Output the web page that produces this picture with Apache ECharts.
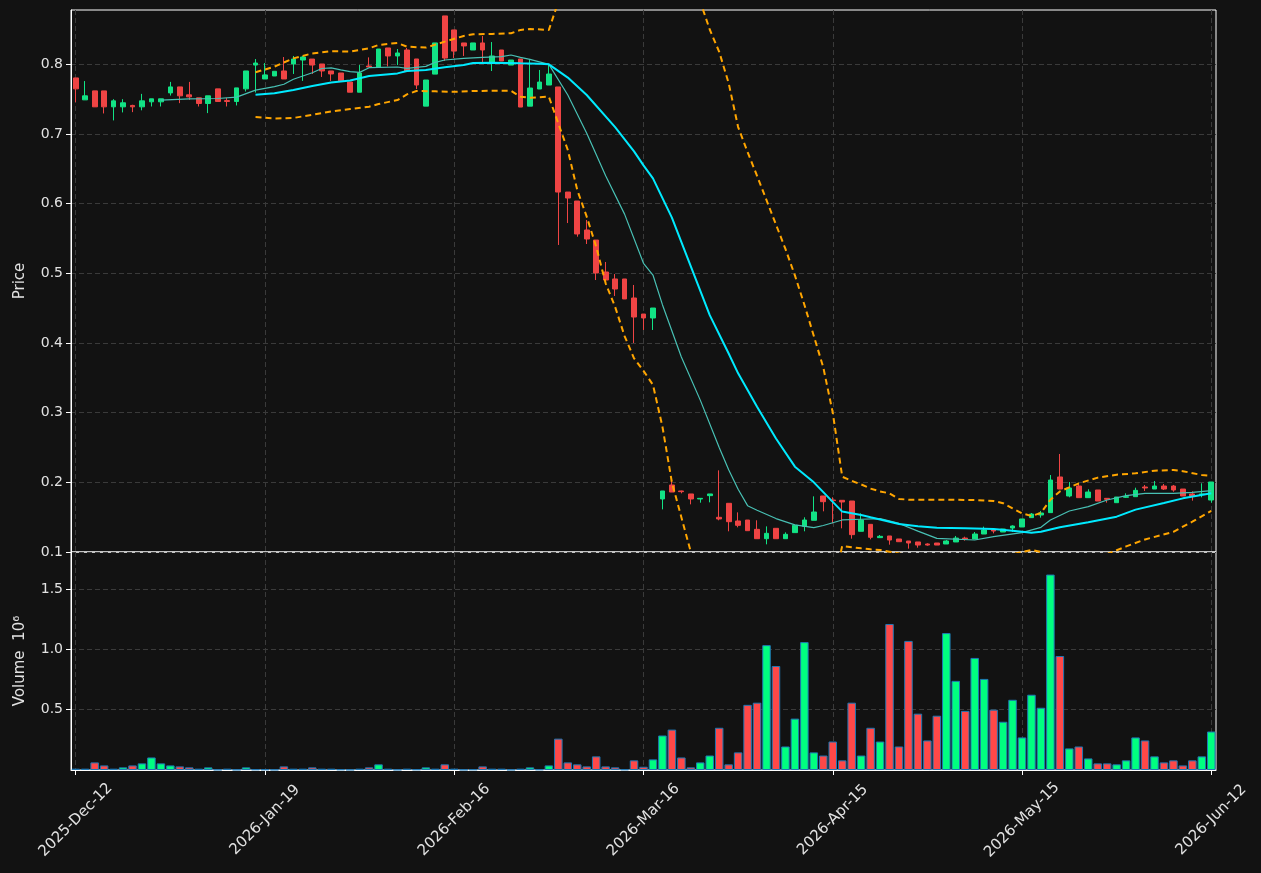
<!DOCTYPE html>
<html>
<head>
    <meta charset="utf-8">
    <title>Price / Volume</title>
    <script src="https://cdn.jsdelivr.net/npm/echarts@6/dist/echarts.min.js"></script>
    <style>
        html, body { margin: 0; padding: 0; background: #121212; }
        #main { width: 1261px; height: 873px; }
    </style>
</head>
<body>
<div id="main"></div>
<script>
    // x tick labels (every 20 bars)
    var tickIdx = [0, 20, 40, 60, 80, 100, 120];
    var tickText = ['2025-Dec-12', '2026-Jan-19', '2026-Feb-16', '2026-Mar-16', '2026-Apr-15', '2026-May-15', '2026-Jun-12'];
    var priceTicks = [0.1, 0.2, 0.3, 0.4, 0.5, 0.6, 0.7, 0.8];
    var volTicks = [0.5, 1.0, 1.5];

    // OHLC, one entry per bar
    var opens = [0.7805, 0.749, 0.7619, 0.7619, 0.739, 0.739, 0.741, 0.739, 0.7462, 0.7462,
        0.759, 0.7676, 0.7562, 0.7519, 0.7438, 0.7648, 0.748, 0.7467, 0.7648, 0.799,
        0.779, 0.7833, 0.7905, 0.8005, 0.8062, 0.8076, 0.8005, 0.7905, 0.7876, 0.7746,
        0.760, 0.7976, 0.7962, 0.8235, 0.812, 0.8206, 0.8077, 0.740, 0.786, 0.8695,
        0.8494, 0.8307, 0.8206, 0.8307, 0.802, 0.8206, 0.799, 0.8077, 0.740, 0.7646,
        0.7703, 0.7675, 0.6167, 0.6038, 0.5622, 0.5478, 0.5019, 0.4919, 0.4919, 0.4646,
        0.4416, 0.4359, 0.1761, 0.1962, 0.1876, 0.1833, 0.1761, 0.1809, 0.1498, 0.1699,
        0.1445, 0.1459, 0.1325, 0.1191, 0.134, 0.1191, 0.1278, 0.1368, 0.1455, 0.1804,
        0.1746, 0.1742, 0.1732, 0.1297, 0.1397, 0.1206, 0.123, 0.1187, 0.1158, 0.1144,
        0.1115, 0.1129, 0.1115, 0.1144, 0.12, 0.1187, 0.1258, 0.1316, 0.1287, 0.1344,
        0.1359, 0.1493, 0.1531, 0.1565, 0.2077, 0.1804, 0.1947, 0.178, 0.189, 0.177,
        0.1708, 0.1785, 0.1794, 0.1933, 0.1904, 0.1947, 0.1947, 0.1904, 0.1833, 0.1823,
        0.1746];
    var closes = [0.7648, 0.7548, 0.739, 0.739, 0.7476, 0.7448, 0.739, 0.7476, 0.7505, 0.7505,
        0.7676, 0.7548, 0.7533, 0.7438, 0.7548, 0.7467, 0.7467, 0.7662, 0.7905, 0.8019,
        0.7848, 0.790, 0.779, 0.8076, 0.8105, 0.799, 0.7905, 0.7862, 0.7762, 0.760,
        0.7875, 0.7962, 0.822, 0.812, 0.8163, 0.7904, 0.7703, 0.7775, 0.8307, 0.809,
        0.819, 0.8264, 0.8307, 0.8206, 0.812, 0.8048, 0.8062, 0.7387, 0.766, 0.7746,
        0.7861, 0.6167, 0.6081, 0.5565, 0.5493, 0.5005, 0.4904, 0.4775, 0.4632, 0.4373,
        0.4359, 0.4502, 0.1876, 0.1861, 0.1866, 0.1761, 0.177, 0.1833, 0.1474, 0.1435,
        0.1383, 0.1306, 0.1191, 0.1268, 0.1191, 0.1254, 0.1383, 0.1459, 0.1574, 0.1722,
        0.1737, 0.1718, 0.1249, 0.1459, 0.1211, 0.1225, 0.1172, 0.1148, 0.1129, 0.110,
        0.110, 0.110, 0.1158, 0.120, 0.1187, 0.1258, 0.1316, 0.1301, 0.133, 0.1373,
        0.1474, 0.1545, 0.156, 0.2033, 0.1904, 0.1919, 0.178, 0.1861, 0.1732, 0.1756,
        0.1789, 0.1794, 0.1885, 0.1919, 0.1947, 0.1904, 0.189, 0.1804, 0.1804, 0.1833,
        0.2005];
    var lows = [0.7457, 0.749, 0.739, 0.7295, 0.7195, 0.731, 0.7314, 0.734, 0.7395, 0.7395,
        0.7552, 0.7443, 0.749, 0.7395, 0.730, 0.7467, 0.7395, 0.741, 0.761, 0.7595,
        0.779, 0.7833, 0.779, 0.7862, 0.7762, 0.7862, 0.7819, 0.7762, 0.7762, 0.760,
        0.760, 0.7962, 0.7962, 0.797, 0.799, 0.7904, 0.7645, 0.740, 0.786, 0.8048,
        0.809, 0.812, 0.8206, 0.8034, 0.7904, 0.8048, 0.799, 0.7387, 0.740, 0.7646,
        0.7703, 0.5407, 0.5722, 0.5526, 0.5421, 0.4904, 0.4904, 0.4675, 0.4632, 0.400,
        0.4187, 0.4187, 0.1612, 0.1861, 0.1842, 0.1684, 0.1708, 0.1713, 0.1455, 0.1297,
        0.1354, 0.1306, 0.1191, 0.111, 0.1191, 0.1191, 0.1278, 0.1297, 0.1455, 0.1584,
        0.1411, 0.134, 0.1191, 0.1297, 0.1182, 0.1206, 0.1105, 0.1148, 0.1048, 0.1062,
        0.109, 0.110, 0.1115, 0.1144, 0.1163, 0.1187, 0.1258, 0.1268, 0.1287, 0.1287,
        0.1359, 0.1493, 0.1493, 0.1565, 0.1904, 0.1785, 0.178, 0.178, 0.1732, 0.1708,
        0.1708, 0.1775, 0.1794, 0.1876, 0.1904, 0.189, 0.1865, 0.1804, 0.1737, 0.1785,
        0.1708];
    var highs = [0.7805, 0.776, 0.7619, 0.7619, 0.750, 0.750, 0.742, 0.7576, 0.7505, 0.7505,
        0.7748, 0.7676, 0.7748, 0.7519, 0.7548, 0.7648, 0.7519, 0.7662, 0.7905, 0.8076,
        0.8019, 0.790, 0.8105, 0.812, 0.812, 0.8076, 0.8005, 0.7905, 0.7876, 0.7746,
        0.799, 0.810, 0.822, 0.8235, 0.822, 0.8235, 0.8077, 0.7775, 0.8307, 0.8695,
        0.8494, 0.8307, 0.8307, 0.8407, 0.832, 0.8206, 0.8062, 0.8077, 0.8077, 0.7919,
        0.8005, 0.7675, 0.6167, 0.6038, 0.5766, 0.5478, 0.5163, 0.499, 0.4919, 0.4833,
        0.4416, 0.4502, 0.1876, 0.2033, 0.188, 0.1833, 0.177, 0.1833, 0.2172, 0.1699,
        0.1569, 0.1459, 0.1455, 0.1368, 0.134, 0.1282, 0.1383, 0.1498, 0.1799, 0.1804,
        0.1785, 0.1742, 0.1732, 0.1555, 0.1397, 0.1244, 0.123, 0.1187, 0.1158, 0.1144,
        0.1125, 0.1129, 0.1172, 0.123, 0.122, 0.1287, 0.1364, 0.1316, 0.133, 0.1383,
        0.1474, 0.156, 0.1589, 0.2105, 0.2407, 0.2005, 0.1986, 0.190, 0.189, 0.1775,
        0.1789, 0.1842, 0.1923, 0.1962, 0.2019, 0.1976, 0.1962, 0.1904, 0.1871, 0.1986,
        0.2005];

    // volume, millions
    var volumes = [0.011, 0.011, 0.063, 0.038, 0.011, 0.022, 0.038, 0.055, 0.104, 0.055,
        0.038, 0.030, 0.022, 0.011, 0.022, 0.003, 0.011, 0.003, 0.022, 0.005,
        0.005, 0.003, 0.030, 0.011, 0.011, 0.022, 0.011, 0.011, 0.005, 0.003,
        0.011, 0.022, 0.047, 0.011, 0.003, 0.011, 0.005, 0.022, 0.011, 0.047,
        0.011, 0.003, 0.005, 0.030, 0.011, 0.011, 0.003, 0.011, 0.022, 0.005,
        0.038, 0.260, 0.063, 0.047, 0.030, 0.113, 0.030, 0.022, 0.005, 0.080,
        0.027, 0.088, 0.286, 0.335, 0.104, 0.022, 0.063, 0.120, 0.350, 0.047,
        0.146, 0.540, 0.558, 1.035, 0.862, 0.195, 0.426, 1.060, 0.146, 0.120,
        0.236, 0.080, 0.558, 0.120, 0.350, 0.236, 1.210, 0.195, 1.070, 0.467,
        0.245, 0.450, 1.135, 0.739, 0.490, 0.929, 0.755, 0.500, 0.400, 0.582,
        0.270, 0.624, 0.516, 1.620, 0.945, 0.179, 0.195, 0.096, 0.055, 0.055,
        0.047, 0.080, 0.270, 0.245, 0.113, 0.063, 0.080, 0.038, 0.080, 0.113,
        0.319];

    // indicator lines: [bar index, value]
    var ma10 = [[9, 0.7486], [12, 0.7505], [15, 0.751], [17, 0.7529], [19, 0.763], [21, 0.768], [22, 0.7714],
        [23, 0.7786], [25, 0.788], [26, 0.794], [27, 0.795], [28, 0.792], [29, 0.7895], [30, 0.7885],
        [31, 0.7952], [34, 0.7962], [35, 0.7943], [37, 0.7971], [38, 0.8029], [39, 0.8062], [41, 0.8086],
        [43, 0.810], [45, 0.811], [46, 0.8134], [47, 0.810], [48, 0.8072], [50, 0.800], [52, 0.756],
        [54, 0.701], [56, 0.640], [58, 0.585], [60, 0.5144], [61, 0.4976], [62, 0.455], [64, 0.380],
        [66, 0.318], [68, 0.250], [69, 0.218], [70, 0.190], [71, 0.1665], [72, 0.160], [74, 0.148],
        [76, 0.139], [78, 0.135], [79, 0.138], [81, 0.146], [83, 0.147], [85, 0.148], [87, 0.141],
        [89, 0.130], [91, 0.1196], [95, 0.1172], [97, 0.122], [100, 0.1278], [102, 0.1354], [103, 0.1459],
        [105, 0.1589], [107, 0.1651], [109, 0.1746], [111, 0.1809], [113, 0.1842], [116, 0.1842],
        [118, 0.1856], [120, 0.188]];
    var ma20 = [[19, 0.7562], [21, 0.7586], [23, 0.7633], [25, 0.769], [27, 0.7738], [29, 0.7767], [31, 0.7832],
        [34, 0.787], [35, 0.7904], [37, 0.7919], [39, 0.7957], [41, 0.799], [42, 0.8019], [44, 0.8024],
        [47, 0.8014], [49, 0.801], [50, 0.800], [52, 0.781], [54, 0.756], [57, 0.710], [59, 0.675],
        [60, 0.655], [61, 0.6364], [63, 0.580], [65, 0.510], [67, 0.440], [69, 0.385], [70, 0.3565],
        [72, 0.3086], [74, 0.263], [76, 0.2225], [78, 0.200], [79, 0.186], [80, 0.172], [81, 0.158],
        [83, 0.153], [84, 0.1498], [86, 0.1435], [87, 0.1402], [89, 0.1368], [91, 0.1349], [94, 0.134],
        [97, 0.133], [99, 0.1306], [101, 0.1278], [102, 0.1292], [104, 0.1354], [107, 0.1426],
        [110, 0.1507], [112, 0.1608], [115, 0.1703], [117, 0.177], [120, 0.1842]];
    var bandUpper = [[19, 0.7886], [21, 0.7967], [23, 0.8086], [25, 0.8157], [27, 0.819], [29, 0.8182],
        [31, 0.823], [32, 0.8278], [34, 0.8307], [35, 0.8254], [37, 0.824], [39, 0.8326], [41, 0.8407],
        [42, 0.8431], [44, 0.8436], [46, 0.8446], [47, 0.8494], [48, 0.8508], [50, 0.8494], [51, 0.890],
        [52, 0.920], [54, 0.950], [56, 0.970], [58, 0.970], [60, 0.960], [62, 0.950], [64, 0.930],
        [66, 0.890], [67, 0.850], [68, 0.818], [69, 0.773], [70, 0.710], [71, 0.674], [72, 0.640],
        [73, 0.605], [74, 0.570], [75, 0.535], [76, 0.497], [77, 0.455], [78, 0.410], [79, 0.365],
        [80, 0.300], [81, 0.208], [82, 0.202], [83, 0.197], [84, 0.191], [85, 0.187], [86, 0.1842],
        [87, 0.1761], [88, 0.1751], [92, 0.1751], [95, 0.1746], [97, 0.1732], [98, 0.170], [99, 0.1627],
        [100, 0.1555], [101, 0.1517], [102, 0.156], [103, 0.175], [104, 0.187], [106, 0.1986],
        [108, 0.2067], [110, 0.211], [112, 0.2129], [114, 0.2167], [116, 0.2177], [117, 0.216],
        [119, 0.2105], [120, 0.2091]];
    var bandLower = [[19, 0.7243], [21, 0.7224], [23, 0.723], [25, 0.7276], [27, 0.7324], [29, 0.7358],
        [31, 0.7392], [32, 0.743], [34, 0.7487], [35, 0.7569], [36, 0.7617], [38, 0.7612], [40, 0.7605],
        [42, 0.7617], [44, 0.7621], [46, 0.7621], [47, 0.7535], [48, 0.752], [50, 0.7536], [51, 0.715],
        [52, 0.677], [53, 0.6196], [54, 0.5813], [55, 0.5383], [56, 0.4857], [57, 0.452], [58, 0.410],
        [59, 0.378], [60, 0.360], [61, 0.340], [62, 0.280], [63, 0.200], [64, 0.150], [65, 0.100],
        [66, 0.050], [70, -0.050], [75, -0.060], [79, 0.000], [80, 0.050], [81, 0.1086], [83, 0.1053],
        [84, 0.1038], [85, 0.1029], [86, 0.1005], [87, 0.098], [92, 0.090], [96, 0.092], [99, 0.097],
        [100, 0.100], [101, 0.103], [102, 0.100], [103, 0.088], [104, 0.084], [106, 0.080], [108, 0.085],
        [109, 0.097], [111, 0.108], [113, 0.118], [116, 0.129], [118, 0.1435], [120, 0.159]];

    var upColor = '#12e385', downColor = '#ef4444';
    var volUp = '#00ff80', volDown = '#ff4848';
    var textColor = '#e2e2e2';
    var gridDash = { color: '#3a3a3a', width: 1, type: [5, 3] };

    var cats = opens.map(function (v, i) { return String(i); });
    var candleData = opens.map(function (o, i) { return [o, closes[i], lows[i], highs[i]]; });
    var volData = volumes.map(function (v, i) {
        return { value: v, itemStyle: { color: closes[i] >= opens[i] ? volUp : volDown } };
    });

    function onTick(i) { return i % 20 === 0; }

    var myChart = echarts.init(document.getElementById('main'));
    myChart.setOption({
        backgroundColor: '#121212',
        animation: false,
        textStyle: { fontFamily: 'DejaVu Sans' },
        grid: [
            { left: 71, right: 45, top: 10, height: 542, show: true, borderColor: '#ffffff', borderWidth: 1 },
            { left: 71, right: 45, top: 552, height: 218, show: true, borderColor: '#ffffff', borderWidth: 1 }
        ],
        xAxis: [
            {
                type: 'category', gridIndex: 0, data: cats, boundaryGap: true,
                axisLine: { show: false },
                axisTick: { show: false },
                axisLabel: { show: false },
                splitLine: { show: true, interval: onTick, alignWithLabel: true, lineStyle: gridDash }
            },
            {
                type: 'category', gridIndex: 1, data: cats, boundaryGap: true,
                axisLine: { show: true, lineStyle: { color: '#ffffff' } },
                axisTick: { show: true, alignWithLabel: true, interval: onTick, length: 5, lineStyle: { color: '#ffffff' } },
                axisLabel: {
                    interval: onTick, rotate: 45, color: textColor, fontSize: 15, margin: 50,
                    align: 'center', verticalAlign: 'middle',
                    formatter: function (v, i) { return tickText[tickIdx.indexOf(i)] || ''; }
                },
                splitLine: { show: true, interval: onTick, alignWithLabel: true, lineStyle: gridDash }
            }
        ],
        yAxis: [
            {
                type: 'value', gridIndex: 0, min: 0.1, max: 0.878,
                name: 'Price', nameLocation: 'middle', nameRotate: 90, nameGap: 43,
                nameTextStyle: { color: textColor, fontSize: 15 },
                axisLine: { show: true, lineStyle: { color: '#ffffff' } },
                axisTick: { show: true, length: 5, customValues: priceTicks, lineStyle: { color: '#ffffff' } },
                axisLabel: {
                    color: textColor, fontSize: 14, margin: 8, customValues: priceTicks,
                    formatter: function (v) { return v.toFixed(1); }
                },
                splitLine: { show: true, lineStyle: gridDash }
            },
            {
                type: 'value', gridIndex: 1, min: 0, max: 1.807,
                name: 'Volume  10⁶', nameLocation: 'middle', nameRotate: 90, nameGap: 43,
                nameTextStyle: { color: textColor, fontSize: 15 },
                axisLine: { show: true, lineStyle: { color: '#ffffff' } },
                axisTick: { show: true, length: 5, customValues: volTicks, lineStyle: { color: '#ffffff' } },
                axisLabel: {
                    color: textColor, fontSize: 14, margin: 8, customValues: volTicks,
                    formatter: function (v) { return v.toFixed(1); }
                },
                splitLine: { show: true, lineStyle: gridDash }
            }
        ],
        series: [
            {
                name: 'candles', type: 'candlestick', xAxisIndex: 0, yAxisIndex: 0,
                data: candleData, barWidth: '55%',
                itemStyle: { color: upColor, color0: downColor, borderColor: upColor, borderColor0: downColor, borderWidth: 1 }
            },
            {
                name: 'ma10', type: 'line', xAxisIndex: 0, yAxisIndex: 0, data: ma10,
                symbol: 'none', clip: true, lineStyle: { color: '#48c0b4', width: 1.2 }
            },
            {
                name: 'ma20', type: 'line', xAxisIndex: 0, yAxisIndex: 0, data: ma20,
                symbol: 'none', clip: true, lineStyle: { color: '#00eaff', width: 2 }
            },
            {
                name: 'upper', type: 'line', xAxisIndex: 0, yAxisIndex: 0, data: bandUpper,
                symbol: 'none', clip: true, lineStyle: { color: '#ffa500', width: 2, type: [6, 4] }
            },
            {
                name: 'lower', type: 'line', xAxisIndex: 0, yAxisIndex: 0, data: bandLower,
                symbol: 'none', clip: true, lineStyle: { color: '#ffa500', width: 2, type: [6, 4] }
            },
            {
                name: 'volume', type: 'bar', xAxisIndex: 1, yAxisIndex: 1,
                data: volData, barCategoryGap: '10%',
                itemStyle: { borderColor: '#1f77b4', borderWidth: 1 }
            }
        ]
    });
</script>
</body>
</html>
